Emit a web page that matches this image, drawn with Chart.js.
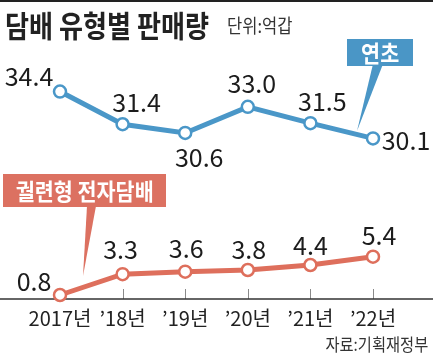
<!DOCTYPE html>
<html>
<head>
<meta charset="utf-8">
<script src="https://cdn.jsdelivr.net/npm/chart.js@4"></script>
<style>
  html, body { margin: 0; padding: 0; background: #fff; }
  #wrap { position: relative; width: 433px; height: 355px; overflow: hidden; }
  #c { position: absolute; left: 0; top: 0; }
  .topline { position: absolute; left: 0; top: 0; width: 433px; height: 2px; background: #222; }
  .title { position: absolute; left: 5px; top: 4px; font-family: 'Noto Sans CJK KR', sans-serif; font-weight: 700; font-size: 30px; color: #222; transform: scaleX(0.87); transform-origin: left top; white-space: nowrap; line-height: 40px; }
  .unit { position: absolute; left: 227px; top: 12px; font-family: 'Noto Sans CJK KR', sans-serif; font-size: 19px; color: #333; transform: scaleX(0.87); transform-origin: left top; white-space: nowrap; line-height: 26px; }
  .badge { position: absolute; color: #fff; font-family: 'Noto Sans CJK KR', sans-serif; font-weight: 700; white-space: nowrap; text-align: center; }
  .badge span { display: inline-block; transform: scaleX(0.9); }
  .src { position: absolute; right: 5px; top: 333px; font-family: 'Noto Sans CJK KR', sans-serif; font-size: 17px; color: #333; transform: scaleX(0.9); transform-origin: right top; white-space: nowrap; line-height: 22px; }
  svg { position: absolute; left: 0; top: 0; }
</style>
</head>
<body>
<div id="wrap">
  <canvas id="c" width="433" height="355"></canvas>
  <svg width="433" height="355">
    <polygon points="373,64 383,64 357,131" fill="#4a96c6"/>
    <polygon points="87,206 96,206 83,276" fill="#dc7161"/>
  </svg>
  <div class="topline"></div>
  <div class="title">담배 유형별 판매량</div>
  <div class="unit">단위:억갑</div>
  <div class="badge" style="left:347px;top:39px;width:66px;height:27px;line-height:27px;font-size:23px;background:#4a96c6;"><span>연초</span></div>
  <div class="badge" style="left:3px;top:174px;width:163px;height:33px;line-height:33px;font-size:23px;background:#dc7161;"><span>궐련형 전자담배</span></div>
  <div class="src">자료:기획재정부</div>
</div>
<script>
const categories = ["2017년", "’18년", "’19년", "’20년", "’21년", "’22년"];
const cigarette = [34.4, 31.4, 30.6, 33.0, 31.5, 30.1];
const eCigarette = [0.8, 3.3, 3.6, 3.8, 4.4, 5.4];

// label offsets from each point (styling only)
const cigLabelOffset = [[-31, -15], [14, -22], [14, 25], [4, -23], [12, -22], [33, 2]];
const eLabelOffset = [[-26, -14], [-2, -25], [1, -23], [1, -21], [0, -20], [6, -21]];

const BLUE = '#4a97c8';
const RED = '#de6f5c';
const LABEL_FONT = "25px 'Liberation Sans Narrow', 'Noto Sans CJK KR', sans-serif";

const axisPlugin = {
  id: 'axisLine',
  beforeDatasetsDraw(chart) {
    const ctx = chart.ctx;
    const x = chart.scales.x;
    const yb = chart.chartArea.bottom;
    ctx.save();
    ctx.strokeStyle = '#8a8a8a';
    ctx.lineWidth = 1;
    for (let i = 1; i < categories.length; i++) {
      const px = Math.round(x.getPixelForValue(i)) + 0.5;
      ctx.beginPath();
      ctx.moveTo(px, yb - 10);
      ctx.lineTo(px, yb);
      ctx.stroke();
    }
    ctx.strokeStyle = '#333';
    ctx.lineWidth = 1.5;
    ctx.beginPath();
    ctx.moveTo(0, yb);
    ctx.lineTo(chart.width, yb);
    ctx.stroke();
    ctx.restore();
  }
};

const labelPlugin = {
  id: 'valueLabels',
  afterDatasetsDraw(chart) {
    const ctx = chart.ctx;
    ctx.save();
    ctx.font = LABEL_FONT;
    ctx.fillStyle = '#1c1c1c';
    ctx.textAlign = 'center';
    ctx.textBaseline = 'middle';
    const sets = [[cigarette, cigLabelOffset], [eCigarette, eLabelOffset]];
    sets.forEach(([vals, offs], di) => {
      const meta = chart.getDatasetMeta(di);
      meta.data.forEach((pt, i) => {
        ctx.fillText(vals[i].toFixed(1), pt.x + offs[i][0], pt.y + offs[i][1]);
      });
    });
    ctx.restore();
  }
};

new Chart(document.getElementById('c'), {
  type: 'line',
  data: {
    labels: categories,
    datasets: [
      {
        data: cigarette, yAxisID: 'y',
        borderColor: BLUE, borderWidth: 5,
        pointRadius: 6, pointBorderWidth: 2.5,
        pointBackgroundColor: '#fff', pointBorderColor: BLUE,
        tension: 0, clip: false
      },
      {
        data: eCigarette, yAxisID: 'y2',
        borderColor: RED, borderWidth: 5,
        pointRadius: 6, pointBorderWidth: 2.5,
        pointBackgroundColor: '#fff', pointBorderColor: RED,
        tension: 0, clip: false
      }
    ]
  },
  options: {
    responsive: false,
    animation: false,
    events: [],
    layout: { padding: { left: 60, right: 60, top: 60, bottom: 0 } },
    plugins: { legend: { display: false }, tooltip: { enabled: false } },
    scales: {
      x: {
        offset: false,
        grid: { display: false, drawTicks: false },
        border: { display: false },
        ticks: {
          color: '#222',
          font: { family: "'Liberation Sans Narrow', 'Noto Sans CJK KR', sans-serif", size: 20 },
          padding: 7,
          maxRotation: 0,
          autoSkip: false
        },
        afterFit(s) { s.height = 56; }
      },
      y: { display: false, min: 15.35, max: 37.3 },
      y2: { display: false, min: 0.32, max: 29.0 }
    }
  },
  plugins: [axisPlugin, labelPlugin]
});
</script>
</body>
</html>
